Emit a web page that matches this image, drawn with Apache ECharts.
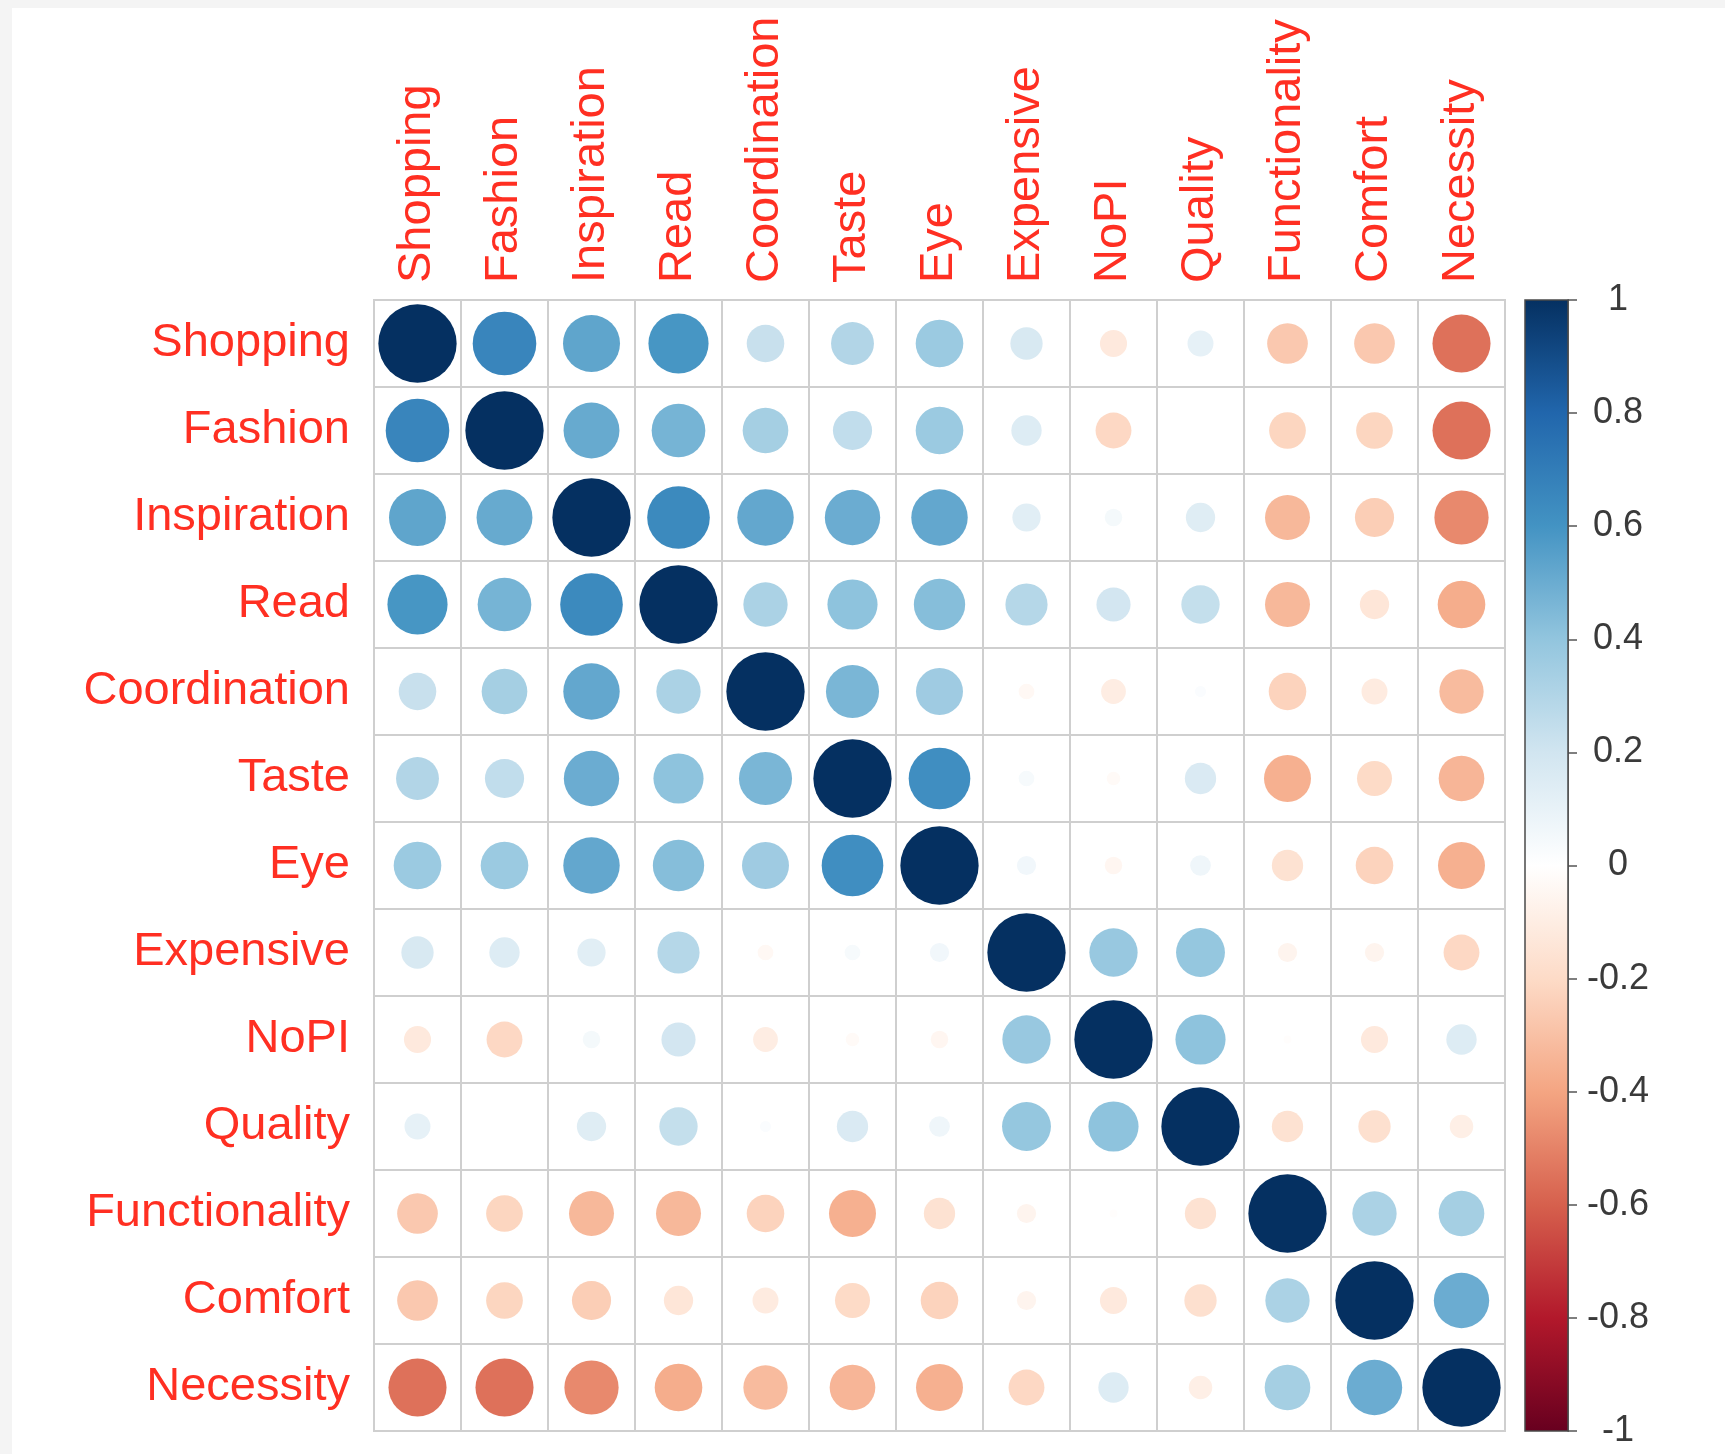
<!DOCTYPE html>
<html>
<head>
<meta charset="utf-8">
<title>Correlation matrix</title>
<script src="https://cdn.jsdelivr.net/npm/echarts@6/dist/echarts.min.js"></script>
<style>
  html, body { margin: 0; padding: 0; background: #f4f4f4; }
  #paper { position: absolute; left: 12px; top: 8px; width: 1713px; height: 1446px; background: #ffffff; }
  #chart { position: absolute; left: 0; top: 0; width: 1725px; height: 1454px; }
</style>
</head>
<body>
<div id="paper"></div>
<div id="chart"></div>
<script>
// Variable names (rows top-to-bottom, columns left-to-right)
const variables = ['Shopping', 'Fashion', 'Inspiration', 'Read', 'Coordination', 'Taste', 'Eye',
                   'Expensive', 'NoPI', 'Quality', 'Functionality', 'Comfort', 'Necessity'];

// Pairwise correlation coefficients
const corr = [
  [ 1.00,  0.66,  0.53,  0.59,  0.23,  0.30,  0.37,  0.17, -0.12,  0.11, -0.27, -0.27, -0.55],
  [ 0.66,  1.00,  0.51,  0.47,  0.34,  0.25,  0.37,  0.15, -0.21,  0.00, -0.22, -0.22, -0.55],
  [ 0.53,  0.51,  1.00,  0.64,  0.52,  0.50,  0.52,  0.13,  0.05,  0.14, -0.33, -0.25, -0.48],
  [ 0.59,  0.47,  0.64,  1.00,  0.32,  0.41,  0.43,  0.29,  0.19,  0.24, -0.33, -0.14, -0.37],
  [ 0.23,  0.34,  0.52,  0.32,  1.00,  0.46,  0.36, -0.04, -0.10,  0.02, -0.23, -0.11, -0.32],
  [ 0.30,  0.25,  0.50,  0.41,  0.46,  1.00,  0.62,  0.04, -0.03,  0.16, -0.36, -0.20, -0.34],
  [ 0.37,  0.37,  0.52,  0.43,  0.36,  0.62,  1.00,  0.06, -0.05,  0.07, -0.16, -0.23, -0.36],
  [ 0.17,  0.15,  0.13,  0.29, -0.04,  0.04,  0.06,  1.00,  0.38,  0.39, -0.06, -0.06, -0.21],
  [-0.12, -0.21,  0.05,  0.19, -0.10, -0.03, -0.05,  0.38,  1.00,  0.41, -0.01, -0.12,  0.15],
  [ 0.11,  0.00,  0.14,  0.24,  0.02,  0.16,  0.07,  0.39,  0.41,  1.00, -0.16, -0.17, -0.09],
  [-0.27, -0.22, -0.33, -0.33, -0.23, -0.36, -0.16, -0.06, -0.01, -0.16,  1.00,  0.32,  0.34],
  [-0.27, -0.22, -0.25, -0.14, -0.11, -0.20, -0.23, -0.06, -0.12, -0.17,  0.32,  1.00,  0.50],
  [-0.55, -0.55, -0.48, -0.37, -0.32, -0.34, -0.36, -0.21,  0.15, -0.09,  0.34,  0.50,  1.00]
];

// Diverging red-blue palette from -1 to 1
const palette = ['#67001F', '#B2182B', '#D6604D', '#F4A582', '#FDDBC7', '#FFFFFF',
                 '#D1E5F0', '#92C5DE', '#4393C3', '#2166AC', '#053061'];

// Layout of the matrix and the colour bar
const matrixLeft = 374, matrixTop = 300, matrixSize = 1131;
const cellSize = matrixSize / variables.length;
const labelRed = '#ff2f22';
const fontFamily = '"Liberation Sans", Arial, Helvetica, sans-serif';

const points = [];
corr.forEach((row, i) => row.forEach((v, j) => points.push([j, i, v])));

const chart = echarts.init(document.getElementById('chart'), null, { renderer: 'canvas' });

chart.setOption({
  backgroundColor: 'transparent',
  animation: false,
  textStyle: { fontFamily: fontFamily },
  grid: [
    { left: matrixLeft, top: matrixTop, width: matrixSize, height: matrixSize,
      show: true, borderColor: '#cfcfcf', borderWidth: 2, backgroundColor: '#ffffff' },
    { left: 1525, top: matrixTop, width: 43, height: matrixSize }
  ],
  xAxis: [
    {
      type: 'category', data: variables, position: 'top', gridIndex: 0,
      axisLine: { show: false }, axisTick: { show: false },
      axisLabel: { interval: 0, rotate: -90, margin: 17, color: labelRed, fontSize: 47, fontFamily: fontFamily },
      splitLine: { show: true, interval: 0, lineStyle: { color: '#cfcfcf', width: 2 } }
    },
    { type: 'category', data: ['bar'], gridIndex: 1, show: false }
  ],
  yAxis: [
    {
      type: 'category', data: variables, inverse: true, gridIndex: 0,
      axisLine: { show: false }, axisTick: { show: false },
      axisLabel: { interval: 0, margin: 24, color: labelRed, fontSize: 47, fontFamily: fontFamily },
      splitLine: { show: true, interval: 0, lineStyle: { color: '#cfcfcf', width: 2 } }
    },
    {
      type: 'value', gridIndex: 1, min: -1, max: 1, interval: 0.2, position: 'right',
      axisLine: { show: true, lineStyle: { color: '#555555', width: 1.5 } },
      axisTick: { show: true, inside: false, length: 9, lineStyle: { color: '#555555', width: 1.5 } },
      splitLine: { show: false },
      axisLabel: {
        margin: 50, align: 'center', color: '#3a3a3a', fontSize: 36, fontFamily: fontFamily,
        formatter: v => String(Math.round(v * 10) / 10)
      }
    }
  ],
  visualMap: {
    type: 'continuous', show: false, min: -1, max: 1, dimension: 2, seriesIndex: 0,
    inRange: { color: palette }
  },
  series: [
    {
      type: 'scatter', xAxisIndex: 0, yAxisIndex: 0, data: points,
      symbol: 'circle',
      symbolSize: v => 0.9 * Math.sqrt(Math.abs(v[2])) * cellSize,
      itemStyle: { opacity: 1 },
      z: 3
    },
    {
      type: 'custom', xAxisIndex: 1, yAxisIndex: 1, data: [[0, 1]],
      renderItem: (params, api) => {
        const top = api.coord([0, 1]);
        const bottom = api.coord([0, -1]);
        const w = api.size([1, 0])[0];
        const stops = palette.slice().reverse().map((c, k) => ({ offset: k / (palette.length - 1), color: c }));
        return {
          type: 'rect',
          shape: { x: top[0] - w / 2, y: top[1], width: w, height: bottom[1] - top[1] },
          style: { fill: new echarts.graphic.LinearGradient(0, 0, 0, 1, stops), stroke: '#4a4a4a', lineWidth: 1.5 }
        };
      }
    }
  ]
});
</script>
</body>
</html>
